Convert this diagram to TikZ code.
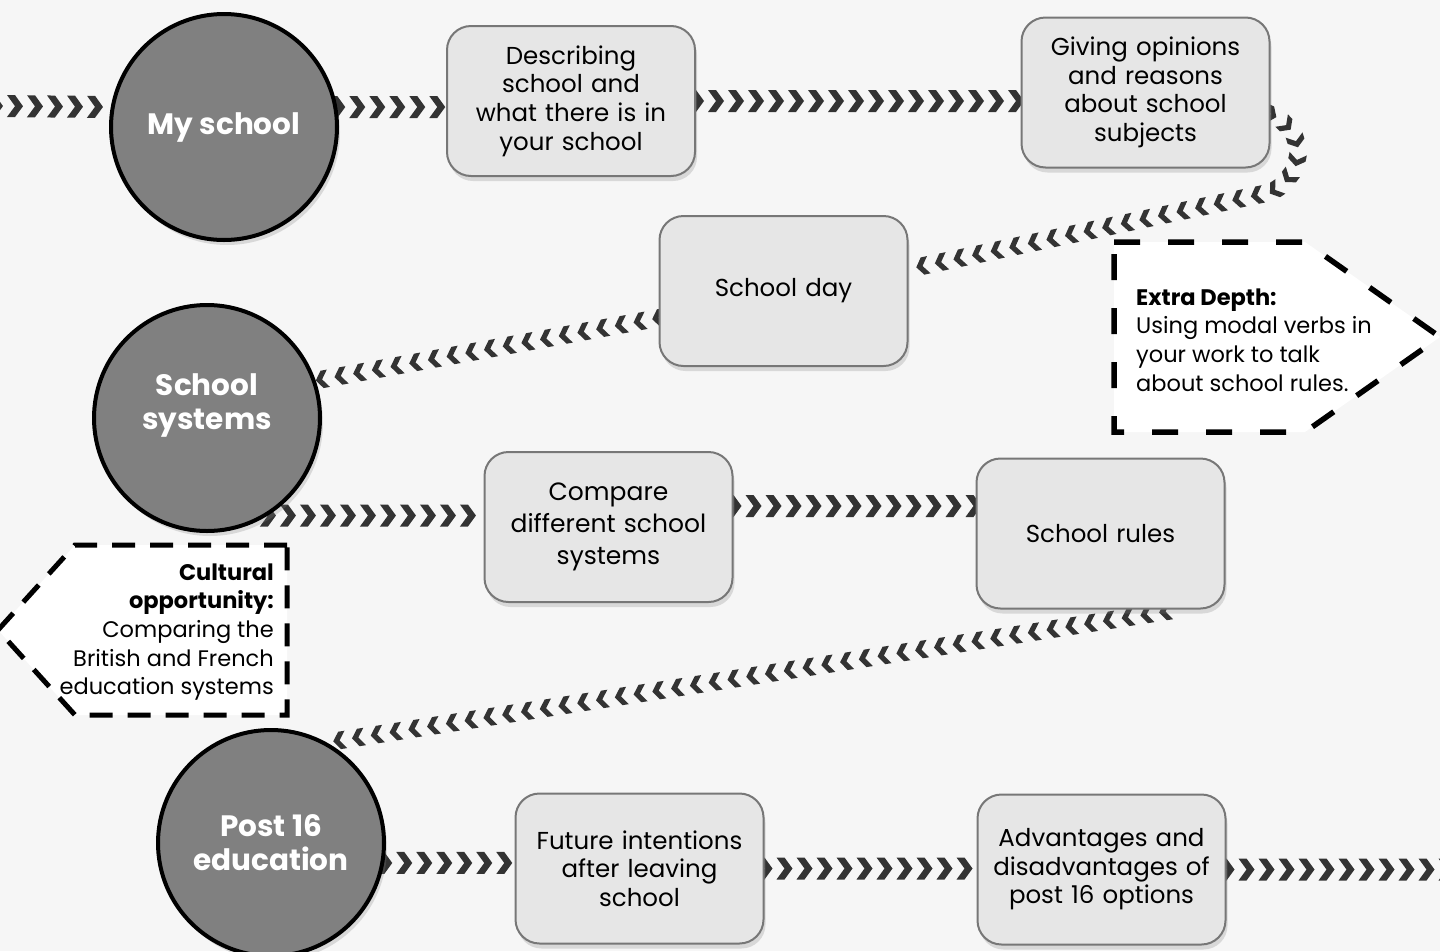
\documentclass[tikz,border=0pt]{standalone}
\usepackage{fontspec}
\setmainfont{Poppins}
\usetikzlibrary{decorations.markings,shadows,calc}
\definecolor{bgc}{HTML}{F6F6F6}
\definecolor{boxfill}{HTML}{E6E6E6}
\definecolor{boxline}{HTML}{777777}
\definecolor{circfill}{HTML}{808080}
\definecolor{chevc}{HTML}{333333}
\pgfdeclarelayer{bg}
\pgfdeclarelayer{conn}
\pgfsetlayers{bg,conn,main}
\newcommand\chevshape[1]{\fill[chevc,scale=#1] (-8pt,-11pt) -- (0pt,-11pt) -- (8pt,0pt) -- (0pt,11pt) -- (-8pt,11pt) -- (0pt,0pt) -- cycle;}
\tikzset{
  topic/.style={rectangle, rounded corners=24pt, draw=boxline, line width=2pt, fill=boxfill,
    minimum width=248pt, minimum height=150pt, text width=240pt, align=center, inner sep=0pt,
    font=\fontsize{24.5}{28.6}\selectfont,
    drop shadow={shadow xshift=2pt, shadow yshift=-5pt, opacity=0.25}},
  unit/.style={circle, draw=black, line width=4pt, fill=circfill, minimum size=226pt, inner sep=0pt,
    text=white, align=center, font=\bfseries\fontsize{29.5}{34}\selectfont,
    drop shadow={shadow xshift=3pt, shadow yshift=-5pt, opacity=0.25}},
  unittext/.style={inner sep=0pt, text=white, align=center, font=\bfseries\fontsize{29.5}{34}\selectfont},
  chevbig/.style={decorate, decoration={markings, mark=between positions 0 and 1 step 20pt with {\chevshape{1}}}},
  chevsml/.style={decorate, decoration={markings, mark=between positions 0 and 1 step 19pt with {\chevshape{0.8}}}},
  callout/.style={draw=black, fill=white, line width=5.5pt, line join=miter},
  callouttext/.style={inner sep=0pt, font=\fontsize{22.5}{28.6}\selectfont}
}
\begin{document}
\begin{tikzpicture}[x=1pt,y=-1pt]
\useasboundingbox (0,0) rectangle (1440,951);
\begin{pgfonlayer}{bg}
  \fill[bgc] (0,0) rectangle (1440,951);
\end{pgfonlayer}

% topic circles
\node[unit] (ms) at (224,127) {My school};
\node[unit] (ss) at (207,418) {};
\node[unittext] (sst) at (207,405) {School\\systems};
\node[unit] (p16) at (271,843) {Post 16\\education};

% topic boxes
\node[topic] (b1) at (571,101) {Describing\\school and\\what there is in\\your school};
\node[topic] (b2) at (1145.5,92.5) {Giving opinions\\and reasons\\about school\\subjects};
\node[topic] (b3) at (783.5,291) {School day};
\node[topic, font=\fontsize{25}{32}\selectfont] (b4) at (608.5,527) {Compare\\different school\\systems};
\node[topic] (b5) at (1100.5,533.5) {School rules};
\node[topic] (b6) at (639.5,868.5) {Future intentions\\after leaving\\school};
\node[topic] (b7) at (1101.5,869.5) {Advantages and\\disadvantages of\\post 16 options};

% callouts
\draw[callout, dash pattern=on 26pt off 28pt] (1114,242) -- (1305,242) -- (1440,337) -- (1305,432) -- (1114,432) -- cycle;
\node[callouttext, anchor=west, align=left] (xd) at (1136,340)
  {\textbf{Extra Depth:}\\Using modal verbs in\\your work to talk\\about school rules.};
\draw[callout, line width=5pt, dash pattern=on 23pt off 15pt] (287,545) -- (75,545) -- (-2,630) -- (75,715) -- (287,715) -- cycle;
\node[callouttext, anchor=east, align=right] (co) at (274,632)
  {\textbf{Cultural}\\\textbf{opportunity:}\\Comparing the\\British and French\\education systems};

% connectors
\coordinate (lin) at (-5,106);
\coordinate (rout) at (1450,869.5);
\coordinate (g1) at ($(b4.east)+(0,-21)$);
\begin{pgfonlayer}{conn}
  \path[chevbig] (lin) -- (ms.170);
  \path[chevbig] (ms.10) -- (ms.10 -| b1.west);
  \path[chevbig] (b1.east) -- (b1.east -| b2.west);
  \path[chevsml] ($(b2.east)+(0,22)$) .. controls (1305,130) and (1308,170) .. (1272,192) -- ($(b3.east)+(0,-22)$);
  \path[chevsml] ($(b3.west)+(0,27)$) -- (ss.19);
  \path[chevbig] (ss.-58) -- (ss.-58 -| b4.west);
  \path[chevbig] (g1) -- (g1 -| b5.west);
  \path[chevsml] ($(b5.south east)+(-60,2)$) -- (p16.61);
  \path[chevbig] (p16.-10) -- (p16.-10 -| b6.west);
  \path[chevbig] (b6.east) -- (b6.east -| b7.west);
  \path[chevbig] (b7.east) -- (rout);
\end{pgfonlayer}
\end{tikzpicture}
\end{document}
